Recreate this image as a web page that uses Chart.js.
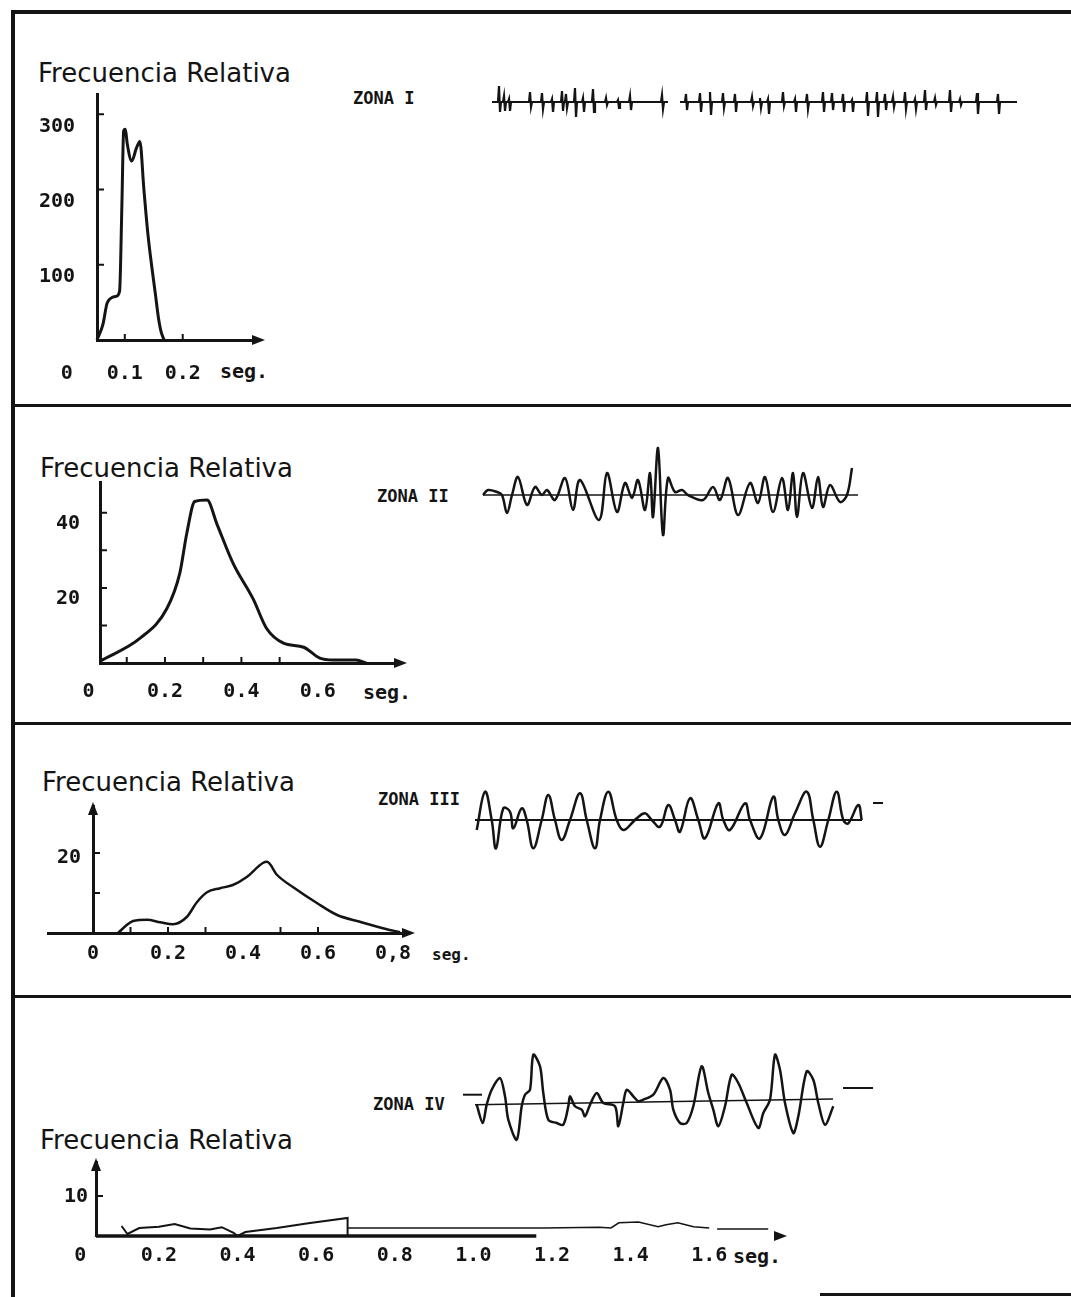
<!DOCTYPE html>
<html lang="es">
<head>
<meta charset="utf-8">
<title>Frecuencia relativa por zona</title>
<script src="https://cdn.jsdelivr.net/npm/chart.js@4.4.1/dist/chart.umd.min.js"></script>
<style>
  html, body { margin: 0; padding: 0; background: #fff; }
  #sheet { position: relative; width: 1071px; height: 1297px; overflow: hidden; background: #fff; color: #141414; }
  .rule { position: absolute; background: #141414; }
  canvas { position: absolute; }
  .title { position: absolute; font-family: "DejaVu Sans", sans-serif; font-size: 26px; line-height: 1; white-space: nowrap; }
  .zona { position: absolute; font-family: "DejaVu Sans Mono", monospace; font-weight: bold; font-size: 17px; line-height: 1; white-space: nowrap; }
  .unit { position: absolute; font-family: "DejaVu Sans Mono", monospace; font-weight: bold; font-size: 20px; line-height: 1; white-space: nowrap; }
</style>
</head>
<body>
<div id="sheet">
  <!-- frame and panel dividers -->
  <div class="rule" style="left:11px; top:10px; width:4px; height:1287px"></div>
  <div class="rule" style="left:11px; top:10px; width:1060px; height:4px"></div>
  <div class="rule" style="left:11px; top:404px; width:1060px; height:3px"></div>
  <div class="rule" style="left:11px; top:722px; width:1060px; height:3px"></div>
  <div class="rule" style="left:11px; top:995px; width:1060px; height:3px"></div>
  <div class="rule" style="left:820px; top:1293px; width:251px; height:3px"></div>

  <div class="title" style="left:38px; top:60px">Frecuencia Relativa</div>
  <div class="title" style="left:40px; top:455px">Frecuencia Relativa</div>
  <div class="title" style="left:42px; top:769px">Frecuencia Relativa</div>
  <div class="title" style="left:40px; top:1127px">Frecuencia Relativa</div>

  <div class="zona" style="left:353px; top:90px">ZONA I</div>
  <div class="zona" style="left:377px; top:488px">ZONA II</div>
  <div class="zona" style="left:378px; top:791px">ZONA III</div>
  <div class="zona" style="left:373px; top:1096px">ZONA IV</div>

  <div class="unit" style="left:220px; top:361px">seg.</div>
  <div class="unit" style="left:363px; top:682px">seg.</div>
  <div class="unit" style="left:432px; top:947px; font-size:16px">seg.</div>
  <div class="unit" style="left:733px; top:1246px">seg.</div>

  <canvas id="hist1" width="270" height="345" style="left:20px; top:60px"></canvas>
  <canvas id="hist2" width="410" height="270" style="left:20px; top:450px"></canvas>
  <canvas id="hist3" width="420" height="210" style="left:20px; top:780px"></canvas>
  <canvas id="hist4" width="780" height="150" style="left:20px; top:1140px"></canvas>

  <canvas id="trace1" width="550" height="60" style="left:480px; top:72px"></canvas>
  <canvas id="trace2" width="400" height="120" style="left:470px; top:435px"></canvas>
  <canvas id="trace3" width="430" height="100" style="left:465px; top:770px"></canvas>
  <canvas id="trace4" width="430" height="120" style="left:455px; top:1043px"></canvas>
</div>

<script>
"use strict";

const ink = "#141414";

// Interval histograms: duration in seconds against relative frequency
const zone1Seg = [0.052, 0.062, 0.070, 0.085, 0.091, 0.095, 0.098, 0.101, 0.104, 0.112, 0.120, 0.126, 0.133, 0.140, 0.147, 0.153, 0.158, 0.163, 0.168];
const zone1Freq = [0, 20, 50, 58, 65, 180, 278, 280, 262, 238, 255, 264, 200, 140, 95, 60, 30, 10, 0];

const zone2Seg = [0.03, 0.135, 0.205, 0.239, 0.257, 0.278, 0.31, 0.336, 0.378, 0.431, 0.466, 0.51, 0.563, 0.605, 0.64, 0.70, 0.727];
const zone2Freq = [0.5, 6.6, 14.5, 24, 34.5, 43, 43.4, 37, 26.6, 17, 9.2, 5.3, 4.2, 1.3, 0.8, 0.8, 0];

const zone3Seg = [0.067, 0.09, 0.107, 0.144, 0.179, 0.213, 0.25, 0.277, 0.304, 0.339, 0.373, 0.41, 0.453, 0.464, 0.491, 0.533, 0.597, 0.651, 0.712, 0.773, 0.819];
const zone3Freq = [0, 2, 3, 3.3, 2.7, 2.2, 4, 7.7, 10.2, 11.2, 12, 14, 17.5, 17.8, 14.5, 11.5, 7.5, 4.5, 2.8, 1.2, 0.2];

const zone4Seg = [0.105, 0.12, 0.15, 0.20, 0.24, 0.28, 0.33, 0.36, 0.39, 0.40, 0.42, 0.50, 0.58, 0.68, 0.68];
const zone4Freq = [2.5, 0.5, 2.0, 2.3, 3.0, 1.9, 1.6, 2.2, 0.8, 0, 1.0, 2.0, 3.2, 4.5, 0];
const zone4TailSeg = [0.68, 1.18, 1.32, 1.35, 1.37, 1.42, 1.47, 1.49, 1.52, 1.56, 1.60, 1.61, 1.62, 1.75];
const zone4TailFreq = [2, 2, 2.2, 2, 3.3, 3.5, 2.3, 2.8, 3.3, 2.3, 2, null, 1.75, 1.75];
const zone4AxisEnd = 1.16;

// Axis ticks and the labels printed next to them
const zone1XTicks = [0, 0.1, 0.2];
const zone1XLabels = ["0", "0.1", "0.2"];
const zone1YTicks = [100, 200, 300];
const zone1YLabels = ["100", "200", "300"];

const zone2XTicks = [0, 0.2, 0.4, 0.6];
const zone2XLabels = ["0", "0.2", "0.4", "0.6"];
const zone2YTicks = [20, 40];
const zone2YLabels = ["20", "40"];

const zone3XTicks = [0, 0.2, 0.4, 0.6, 0.8];
const zone3XLabels = ["0", "0.2", "0.4", "0.6", "0,8"];
const zone3YTicks = [20];
const zone3YLabels = ["20"];

const zone4XTicks = [0, 0.2, 0.4, 0.6, 0.8, 1.0, 1.2, 1.4, 1.6];
const zone4XLabels = ["0", "0.2", "0.4", "0.6", "0.8", "1.0", "1.2", "1.4", "1.6"];
const zone4YTicks = [10];
const zone4YLabels = ["10"];

// Zone I record: isolated spikes (position, height above and depth below the baseline)
const zone1SpikeAt = [19, 24, 29, 50, 62, 72, 82, 86, 95, 103, 113, 126, 138, 150, 182, 206, 220, 230, 243, 255, 272, 280, 288, 303, 315, 327, 343, 352, 363, 372, 387, 397, 405, 413, 425, 435, 445, 455, 470, 480, 497, 518];
const zone1SpikeUp = [16, 6, 3, 10, 9, 3, 11, 8, 14, 4, 13, 4, 2, 6, 7, 8, 9, 10, 9, 8, 5, 4, 3, 10, 3, 8, 10, 9, 8, 2, 10, 10, 8, 5, 10, 3, 12, 4, 12, 3, 9, 8];
const zone1SpikeDown = [10, 9, 9, 5, 7, 10, 9, 6, 15, 10, 10, 3, 6, 8, 7, 8, 10, 13, 6, 10, 4, 6, 12, 4, 10, 7, 10, 8, 10, 10, 14, 15, 8, 5, 7, 7, 8, 3, 10, 3, 12, 12];
const zone1Span = [12, 537];
const zone1Break = [188, 200];

// Zone II-IV records: turning points of the trace
const zone2T = [13, 18, 27, 32, 37, 42, 48, 57, 65, 72, 77, 85, 95, 103, 110, 129, 137, 147, 155, 162, 168, 175, 180, 183, 188, 193, 198, 205, 212, 218, 233, 243, 250, 258, 268, 280, 288, 295, 303, 312, 318, 323, 327, 333, 342, 348, 353, 360, 370, 377, 382];
const zone2Amp = [0, 5, 3, 0, -18, 0, 18, -10, 8, 0, 5, -5, 17, -15, 15, -25, 22, -17, 12, -3, 15, -15, 22, -22, 47, -40, 17, 3, 5, 0, -5, 8, -5, 17, -20, 12, -8, 18, -17, 17, -15, 22, -22, 22, -13, 18, -12, 10, -7, 0, 27];
const zone2Base = [13, 388];

const zone3T = [11.7, 20, 26.7, 31, 38.3, 45, 48.3, 56.7, 61.7, 68.3, 76.7, 83.3, 90, 96.7, 105, 115, 121.7, 130, 135, 143.3, 151.7, 158.3, 168.3, 171.7, 180, 186.7, 195, 203.3, 210, 215, 225, 233.3, 240, 253.3, 258.3, 265, 280, 285, 295, 308.3, 313.3, 320, 330, 341.7, 348.3, 355, 363.3, 371.7, 378.3, 383.3, 393.3, 396.7];
const zone3Amp = [-10, 28.3, 0, -28.3, 11.7, 8.3, -8.3, 11.7, 0, -28.3, 0, 25, 0, -20, 0, 26.7, 0, -28.3, 0, 28.3, 0, -10, -1.7, 1.7, 6.7, 0, -6.7, 15, 0, -11.7, 21.7, 0, -18.3, 16.7, 0, -10, 16.7, 0, -18.3, 23.3, 0, -15, 6.7, 28.3, 0, -26.7, 0, 28.3, 0, -3.3, 15, 0];
const zone3Base = [10, 397];
const zone3Mark = [408, 418];
const zone3MarkAmp = 17;

const zone4T = [21.7, 27.7, 31.7, 36.7, 45, 50, 53.3, 61.7, 66.7, 70, 75, 78.3, 85, 88.3, 93.3, 101.7, 108.3, 113.3, 115, 120, 126.7, 130, 135, 141.7, 148.3, 160, 163.3, 168.3, 171.7, 178.3, 183.3, 188.3, 198.3, 208.3, 215, 218.3, 225, 231.7, 238.3, 246.7, 253.3, 258.3, 263.3, 270, 276.7, 283.3, 291.7, 303.3, 308.3, 315, 320, 325, 330, 338.3, 343.3, 351.7, 358.3, 363.3, 370, 378.3];
const zone4Amp = [-1.7, -20, -1.7, 13.3, 25, 6.7, -16.7, -36.7, -3.3, 8.3, 13.3, 48.3, 36.7, 10, -16.7, -20, -21.7, -3.3, 6.7, -3.3, -6.7, -13.3, -1.7, 10, 0, -3.3, -23.3, 0, 13.3, 6.7, 1.7, 3.3, 8.3, 25, 13.3, -6.7, -20, -20, -3.3, 36.7, 10, -6.7, -23.3, -3.3, 28.3, 20, 0, -25, -10, 3.3, 48.3, 33.3, 0, -30, -13.3, 31.7, 23.3, 0, -21.7, -3.3];
const zone4Base = [20, 378];
const zone4BaseAmp = [-1.7, 4];
const zone4MarkLeft = [8, 27];
const zone4MarkRight = [388, 418];
const zone4MarkAmp = [8.3, 15];

Chart.defaults.font.family = "'DejaVu Sans Mono', monospace";
Chart.defaults.font.size = 20;
Chart.defaults.font.weight = "bold";
Chart.defaults.color = ink;

function pairs(xs, ys) {
	return xs.map(function (x, i) {
		return { x: x, y: ys[i] };
	});
}

// Small inner tick marks, a shortened x axis where needed, and arrow heads
const axisMarks = {
	id: "axisMarks",
	afterDatasetsDraw(chart, args, opts) {
		const { ctx, chartArea, scales } = chart;
		const xs = scales.x;
		const ys = scales.y;
		const axisX = xs.getPixelForValue(opts.yAt !== undefined ? opts.yAt : xs.min);
		const axisY = ys.getPixelForValue(0);

		ctx.save();
		ctx.strokeStyle = ink;
		ctx.fillStyle = ink;

		if (opts.axisEnd !== undefined) {
			ctx.lineWidth = 3.5;
			ctx.beginPath();
			ctx.moveTo(chartArea.left, axisY);
			ctx.lineTo(xs.getPixelForValue(opts.axisEnd), axisY);
			ctx.stroke();
		}

		ctx.lineWidth = 2;
		ctx.beginPath();
		(opts.y || []).forEach(function (v) {
			const p = ys.getPixelForValue(v);
			ctx.moveTo(axisX, p);
			ctx.lineTo(axisX + 7, p);
		});
		(opts.x || []).forEach(function (v) {
			const p = xs.getPixelForValue(v);
			ctx.moveTo(p, axisY);
			ctx.lineTo(p, axisY - 6);
		});
		ctx.stroke();

		if (opts.arrowX) {
			const r = chartArea.right;
			ctx.beginPath();
			ctx.moveTo(r + 7, axisY);
			ctx.lineTo(r - 6, axisY - 5);
			ctx.lineTo(r - 6, axisY + 5);
			ctx.closePath();
			ctx.fill();
		}
		if (opts.arrowY) {
			const t = chartArea.top;
			ctx.beginPath();
			ctx.moveTo(axisX, t - 4);
			ctx.lineTo(axisX - 5, t + 9);
			ctx.lineTo(axisX + 5, t + 9);
			ctx.closePath();
			ctx.fill();
		}
		ctx.restore();
	},
};

// One histogram panel with its own axes
function drawHistogram(canvasId, curves, axes) {
	const yScale = {
		type: "linear",
		min: 0,
		max: axes.yMax,
		position: axes.yPosition || "left",
		grid: { display: false, drawTicks: false },
		border: { color: ink, width: 3 },
		afterBuildTicks: function (s) {
			s.ticks = axes.yTicks.map(function (v) {
				return { value: v };
			});
		},
		ticks: {
			autoSkip: false,
			padding: axes.yPad,
			labelOffset: axes.yShift,
			callback: function (v, i) {
				// an axis placed by value ignores padding, so a trailing gap stands in for it
				return axes.yPosition ? axes.yLabels[i] + " " : axes.yLabels[i];
			},
		},
	};
	if (axes.yWidth) {
		yScale.afterFit = function (s) {
			s.width = axes.yWidth;
		};
	}

	new Chart(document.getElementById(canvasId), {
		type: "line",
		data: {
			datasets: curves.map(function (c) {
				return {
					data: c.points,
					borderColor: ink,
					borderWidth: c.width,
					pointRadius: 0,
					tension: c.tension,
					cubicInterpolationMode: c.mode || "default",
					clip: false,
				};
			}),
		},
		options: {
			responsive: false,
			animation: false,
			events: [],
			layout: { padding: axes.padding },
			plugins: {
				legend: { display: false },
				tooltip: { enabled: false },
				axisMarks: axes.marks,
			},
			scales: {
				x: {
					type: "linear",
					min: axes.xMin,
					max: axes.xMax,
					grid: { display: false, drawTicks: false },
					border: { display: axes.xBorder !== false, color: ink, width: 3 },
					afterBuildTicks: function (s) {
						s.ticks = axes.xTicks.map(function (v) {
							return { value: v };
						});
					},
					afterFit: function (s) {
						s.height = axes.xHeight;
					},
					ticks: {
						autoSkip: false,
						maxRotation: 0,
						padding: axes.xPad,
						callback: function (v, i) {
							return axes.xLabels[i];
						},
					},
				},
				y: yScale,
			},
		},
		plugins: [axisMarks],
	});
}

// One recorded trace, drawn without visible axes
function drawTrace(canvasId, tMax, ampMax, datasets) {
	new Chart(document.getElementById(canvasId), {
		type: "line",
		data: {
			datasets: datasets.map(function (d) {
				return {
					data: d.points,
					borderColor: ink,
					borderWidth: d.width,
					pointRadius: 0,
					tension: d.tension || 0,
					clip: false,
				};
			}),
		},
		options: {
			responsive: false,
			animation: false,
			events: [],
			plugins: { legend: { display: false }, tooltip: { enabled: false } },
			scales: {
				x: { type: "linear", display: false, min: 0, max: tMax },
				y: { type: "linear", display: false, min: -ampMax, max: ampMax },
			},
		},
	});
}

// Zone I is a flat line carrying short spikes, broken once
function zone1Points() {
	const pts = [{ x: zone1Span[0], y: 0 }];
	zone1SpikeAt.forEach(function (t, i) {
		if (t > zone1Break[0] && pts[pts.length - 1].x < zone1Break[0]) {
			pts.push({ x: zone1Break[0], y: 0 }, { x: zone1Break[0] + 1, y: null }, { x: zone1Break[1], y: 0 });
		}
		pts.push({ x: t - 1, y: 0 }, { x: t, y: zone1SpikeUp[i] }, { x: t + 1, y: -zone1SpikeDown[i] }, { x: t + 2, y: 0 });
	});
	pts.push({ x: zone1Span[1], y: 0 });
	return pts;
}

drawHistogram("hist1", [{ points: pairs(zone1Seg, zone1Freq), width: 3, tension: 0.3, mode: "monotone" }], {
	xMin: 0.052, xMax: 0.33, yMax: 327,
	xTicks: zone1XTicks, xLabels: zone1XLabels, yTicks: zone1YTicks, yLabels: zone1YLabels,
	padding: { top: 25, right: 32, left: 0, bottom: 0 },
	yWidth: 77, xHeight: 65, xPad: 22, yPad: 22, yShift: 12,
	marks: { y: zone1YTicks, x: [0.1, 0.2], arrowX: true },
});

drawHistogram("hist2", [{ points: pairs(zone2Seg, zone2Freq), width: 3, tension: 0.3, mode: "monotone" }], {
	xMin: 0.03, xMax: 0.815, yMax: 48.2,
	xTicks: zone2XTicks, xLabels: zone2XLabels, yTicks: zone2YTicks, yLabels: zone2YLabels,
	padding: { top: 30, right: 30, left: 0, bottom: 0 },
	yWidth: 80, xHeight: 57, xPad: 17, yPad: 20, yShift: 11,
	marks: { y: [10, 20, 30, 40], x: [0.1, 0.2, 0.3, 0.4, 0.5], arrowX: true },
});

drawHistogram("hist3", [{ points: pairs(zone3Seg, zone3Freq), width: 2.5, tension: 0.3, mode: "monotone" }], {
	xMin: -0.12, xMax: 0.84, yMax: 31.75,
	xTicks: zone3XTicks, xLabels: zone3XLabels, yTicks: zone3YTicks, yLabels: zone3YLabels,
	yPosition: { x: 0 },
	padding: { top: 26, right: 32, left: 28, bottom: 0 },
	xHeight: 57, xPad: 9, yPad: 13, yShift: 5,
	marks: { yAt: 0, y: [10, 20], x: [0.1, 0.2, 0.3, 0.5, 0.6], arrowX: true, arrowY: true },
});

drawHistogram("hist4", [
	{ points: pairs(zone4Seg, zone4Freq), width: 2, tension: 0 },
	{ points: pairs(zone4TailSeg, zone4TailFreq), width: 1.5, tension: 0 },
], {
	xMin: 0.04, xMax: 1.78, yMax: 18.5, xBorder: false,
	xTicks: zone4XTicks, xLabels: zone4XLabels, yTicks: zone4YTicks, yLabels: zone4YLabels,
	padding: { top: 22, right: 20, left: 0, bottom: 0 },
	yWidth: 76, xHeight: 54, xPad: 8, yPad: 8, yShift: 1,
	marks: { y: zone4YTicks, axisEnd: zone4AxisEnd, arrowX: true, arrowY: true },
});

drawTrace("trace1", 550, 30, [{ points: zone1Points(), width: 2.2 }]);

drawTrace("trace2", 400, 60, [
	{ points: pairs(zone2T, zone2Amp), width: 2.5, tension: 0.35 },
	{ points: pairs(zone2Base, [0, 0]), width: 1.5 },
]);

drawTrace("trace3", 430, 50, [
	{ points: pairs(zone3T, zone3Amp), width: 2.5, tension: 0.4 },
	{ points: pairs(zone3Base, [0, 0]), width: 2 },
	{ points: pairs(zone3Mark, [zone3MarkAmp, zone3MarkAmp]), width: 2 },
]);

drawTrace("trace4", 430, 60, [
	{ points: pairs(zone4T, zone4Amp), width: 2.5, tension: 0.3 },
	{ points: pairs(zone4Base, zone4BaseAmp), width: 1.5 },
	{ points: pairs(zone4MarkLeft, [zone4MarkAmp[0], zone4MarkAmp[0]]), width: 2 },
	{ points: pairs(zone4MarkRight, [zone4MarkAmp[1], zone4MarkAmp[1]]), width: 2 },
]);
</script>
</body>
</html>
